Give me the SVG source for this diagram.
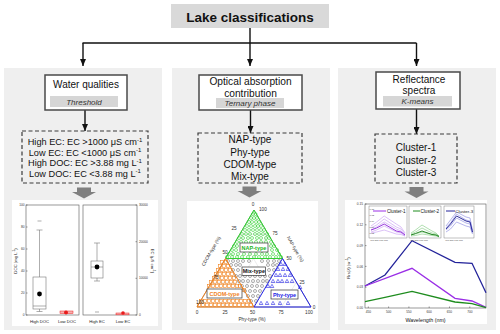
<svg xmlns="http://www.w3.org/2000/svg" width="500" height="334" viewBox="0 0 500 334">
<style>
text{font-family:"Liberation Sans",Arial,sans-serif;fill:#111}
.panel{fill:#efefef}
.box{fill:#fff;stroke:#4a4a4a;stroke-width:1.5}
.tag{fill:#d6d6d6}
.it{font-style:italic;font-size:8px;text-anchor:middle;fill:#333}
.dash{fill:none;stroke:#3a3a3a;stroke-width:1.2;stroke-dasharray:4 2.5}
.lbl{font-size:10px;text-anchor:middle}
.ql{font-size:9.2px;text-anchor:middle}
.conn{fill:none;stroke:#111;stroke-width:1.4}
.blk{fill:#7f7f7f}
.chart{fill:#fff}
.ax{fill:none;stroke:#555;stroke-width:0.6}
.tk{font-size:3.2px;fill:#333}
.tkr{font-size:3.2px;fill:#333;text-anchor:end}
.xl{font-size:4.2px;text-anchor:middle;fill:#222}
.bx{fill:#fff;stroke:#777;stroke-width:0.6}
.wh{fill:none;stroke:#777;stroke-width:0.6}
.tt{font-size:4.7px;fill:#333}
.ttm{font-size:4.7px;fill:#333;text-anchor:middle}
.tlab{font-size:5.5px;font-weight:bold;text-anchor:middle}
.lb{fill:#fff;stroke:#333;stroke-width:0.7}
.grid{fill:none;stroke:#cfcfcf;stroke-width:0.4}
.pts{fill:none;stroke:none}
.ins{fill:#fff;stroke:#666;stroke-width:0.4}
.it2{font-size:2.4px;fill:#444}
</style>
<defs>
<marker id="ah" markerWidth="7" markerHeight="6" refX="7" refY="3" orient="auto" markerUnits="userSpaceOnUse"><path d="M0,0 L7,3 L0,6 z" fill="#111"/></marker>
<marker id="mg" markerWidth="5" markerHeight="5" refX="2.5" refY="2.5" markerUnits="userSpaceOnUse"><circle cx="2.5" cy="2.5" r="1.5" fill="none" stroke="#2fd12f" stroke-width="0.6"/></marker>
<marker id="mk" markerWidth="5" markerHeight="5" refX="2.5" refY="2.5" markerUnits="userSpaceOnUse"><circle cx="2.5" cy="2.5" r="1.5" fill="none" stroke="#6a6a6a" stroke-width="0.55"/></marker>
<marker id="mo" markerWidth="5" markerHeight="5" refX="2.5" refY="2.5" markerUnits="userSpaceOnUse"><rect x="1" y="1" width="3" height="3" fill="none" stroke="#f0821e" stroke-width="0.6"/></marker>
<marker id="mb" markerWidth="5" markerHeight="5" refX="2.5" refY="2.5" markerUnits="userSpaceOnUse"><path d="M2.5,0.8 L4.3,4 L0.7,4 z" fill="none" stroke="#2424e6" stroke-width="0.6"/></marker>
<path id="barrow" d="M-7,0 h14 v4.5 h5 l-12,6.5 l-12,-6.5 h5 z"/>
</defs>

<g id="panels">
<rect class="panel" x="4" y="68" width="158" height="262"/>
<rect class="panel" x="172" y="68" width="158" height="262"/>
<rect class="panel" x="338" y="68" width="158" height="262"/>
</g>

<g id="title">
<rect x="171" y="4" width="158" height="24" fill="#d9d9d9"/>
<text x="250" y="21.5" font-size="13.5" font-weight="bold" text-anchor="middle">Lake classifications</text>
</g>

<g id="connectors">
<path class="conn" d="M250,28 V43 M82.5,43 H416.5"/>
<path class="conn" d="M83,43 V66" marker-end="url(#ah)"/>
<path class="conn" d="M250,43 V66" marker-end="url(#ah)"/>
<path class="conn" d="M416.5,43 V66" marker-end="url(#ah)"/>
<path class="conn" d="M85,110 V131" marker-end="url(#ah)"/>
<path class="conn" d="M250.5,110 V133" marker-end="url(#ah)"/>
<path class="conn" d="M416.5,109 V134" marker-end="url(#ah)"/>
<use href="#barrow" class="blk" x="84" y="187.5"/>
<use href="#barrow" class="blk" x="249.5" y="186.5"/>
<use href="#barrow" class="blk" x="416.5" y="187"/>
</g>

<g id="method-water">
<rect class="box" x="45" y="75" width="82" height="35"/>
<text x="86" y="88" font-size="10" text-anchor="middle">Water qualities</text>
<rect class="tag" x="50" y="96" width="68" height="11"/>
<text class="it" x="84" y="104.5">Threshold</text>
</g>

<g id="method-optical">
<rect class="box" x="199" y="75" width="103" height="35"/>
<text x="250.5" y="85" font-size="10.2" text-anchor="middle">Optical absorption</text>
<text x="250.5" y="97" font-size="10.2" text-anchor="middle">contribution</text>
<rect class="tag" x="216" y="98" width="68" height="10"/>
<text class="it" x="250" y="106">Ternary phase</text>
</g>

<g id="method-reflectance">
<rect class="box" x="376" y="72" width="84" height="37"/>
<text x="419" y="82.5" font-size="10" text-anchor="middle">Reflectance</text>
<text x="419" y="93.5" font-size="10" text-anchor="middle">spectra</text>
<rect class="tag" x="383" y="96" width="69" height="10.5"/>
<text class="it" x="417.5" y="104">K-means</text>
</g>

<g id="classes-water">
<rect class="dash" x="22" y="131" width="126" height="52"/>
<text class="ql" x="85" y="145">High EC: EC &gt;1000 μS cm<tspan font-size="6" dy="-3.5">-1</tspan></text>
<text class="ql" x="85" y="155.5">Low EC: EC &lt;1000 μS cm<tspan font-size="6" dy="-3.5">-1</tspan></text>
<text class="ql" x="85" y="166">High DOC: EC &gt;3.88 mg L<tspan font-size="6" dy="-3.5">-1</tspan></text>
<text class="ql" x="85" y="176.5">Low DOC: EC &lt;3.88 mg L<tspan font-size="6" dy="-3.5">-1</tspan></text>
</g>

<g id="classes-optical">
<rect class="dash" x="198" y="133" width="104" height="50"/>
<text class="lbl" x="250" y="143" font-size="10.3">NAP-type</text>
<text class="lbl" x="250" y="155.5" font-size="10.3">Phy-type</text>
<text class="lbl" x="250" y="167.8" font-size="10.3">CDOM-type</text>
<text class="lbl" x="250" y="180" font-size="10.3">Mix-type</text>
</g>

<g id="classes-reflectance">
<rect class="dash" x="375" y="134" width="82" height="49"/>
<text class="lbl" x="416" y="151">Cluster-1</text>
<text class="lbl" x="416" y="163.5">Cluster-2</text>
<text class="lbl" x="416" y="176">Cluster-3</text>
</g>

<g id="chart-boxplot">
<rect class="chart" x="12" y="200" width="146" height="126"/>
<rect class="ax" x="26" y="205" width="53" height="110"/>
<rect class="ax" x="83" y="205" width="54" height="110"/>
<path class="ax" d="M26,315h1.5M26,293h1.5M26,271h1.5M26,249h1.5M26,227h1.5M26,205h1.5M137,315h-1.5M137,278.3h-1.5M137,241.7h-1.5M137,205h-1.5"/>
<text class="tkr" x="24.5" y="316">0</text>
<text class="tkr" x="24.5" y="294">20</text>
<text class="tkr" x="24.5" y="272">40</text>
<text class="tkr" x="24.5" y="250">60</text>
<text class="tkr" x="24.5" y="228">80</text>
<text class="tkr" x="24.5" y="206">100</text>
<text class="tk" x="139" y="316">0</text>
<text class="tk" x="139" y="279.3">10000</text>
<text class="tk" x="139" y="242.7">20000</text>
<text class="tk" x="139" y="206">30000</text>
<text class="xl" transform="translate(16.5,261) rotate(-90)">DOC (mg L<tspan font-size="3" dy="-1.5">-1</tspan><tspan dy="1.5">)</tspan></text>
<text class="xl" transform="translate(151,261) rotate(90)">EC (μS cm<tspan font-size="3" dy="-1.5">-1</tspan><tspan dy="1.5">)</tspan></text>
<path class="wh" d="M39.5,230V277M39.5,309V311.5M36.5,230h6M36.5,311.5h6M37.5,221h4M33,306h13"/>
<rect class="bx" x="33" y="277" width="13" height="32" fill="none"/>
<path class="wh" d="M33,306h13"/>
<circle cx="39.5" cy="294" r="2.4" fill="#000"/>
<rect x="60" y="311" width="13" height="2.5" fill="#f6b0b0" stroke="#e22" stroke-width="0.5"/>
<circle cx="66" cy="312.5" r="2" fill="#e81c1c"/>
<path class="wh" d="M97,243V261M97,278V281M94,243h6M94,281h6M95,312h4"/>
<rect class="bx" x="91" y="261" width="12" height="17"/>
<path class="wh" d="M91,267h12"/>
<circle cx="97" cy="267" r="2.4" fill="#000"/>
<rect x="116" y="313" width="13" height="1.8" fill="#f6b0b0" stroke="#e22" stroke-width="0.5"/>
<circle cx="123" cy="313" r="1.8" fill="#e81c1c"/>
<text class="xl" x="39.5" y="323">High DOC</text>
<text class="xl" x="67" y="323">Low DOC</text>
<text class="xl" x="97" y="323">High EC</text>
<text class="xl" x="123" y="323">Low EC</text>
</g>

<g id="chart-ternary">
<rect class="chart" x="187" y="201" width="131" height="122"/>
<path class="grid" d="M239.75,234.25H268.25M225.5,258.5H282.5M211.25,282.75H296.75M224.5,307L268,234.25M253,307L282,258.5M281.5,307L296,282.75M224.5,307L210.5,282.75M253,307L225,258.5M281.5,307L239.5,234.25"/>
<path d="M254,210 L197,307 L311,307 z" fill="none" stroke="#555" stroke-width="0.5"/>
<path class="pts" marker-start="url(#mk)" marker-mid="url(#mk)" marker-end="url(#mk)" d="M228,261 233,261 238,261 243,261 249,261 262,261 268,261 274,261 279,261 231,265 236,265 240,265 268,265 273,265 277,265 233,270 238,270 269,270 274,270 236,276 240,276 245,276 250,276 255,276 260,276 265,276 270,276 239,281 243,281 248,281 253,281 258,281 263,281 267,281 242,286 247,286 252,286 257,286 262,286 245,291 250,291 255,291 260,291 248,296 253,296 258,296 251,301 256,301"/>
<path class="pts" marker-start="url(#mg)" marker-mid="url(#mg)" marker-end="url(#mg)" d="M253,214 255.5,214 251,218 254,218 257,218 249,222 252,222 256,222 259,222 247,226 251,226 255,226 258,226 261,226 245,230 249,230 253,230 257,230 261,230 264,230 242,234 246,234 250,234 255,234 259,234 263,234 267,234 239,238 243,238 248,238 252,238 257,238 261,238 266,238 269,238 237,242 241,242 246,242 251,242 256,242 261,242 266,242 271,242 234,246 237,246 271,246 274,246 232,250 236,250 272,250 277,250 229,254 233,254 238,254 244,254 250,254 256,254 262,254 267,254 273,254 279,254 227,257 232,257 237,257 242,257 248,257 254,257 259,257 265,257 270,257 276,257 281,257"/>
<path class="pts" marker-start="url(#mo)" marker-mid="url(#mo)" marker-end="url(#mo)" d="M222,262 226,262 220,266 224,266 228,266 218,270 222,270 226,270 230,270 216,274 220,274 224,274 228,274 232,274 214,278 218,278 222,278 226,278 230,278 234,278 211,282 215,282 219,282 223,282 227,282 231,282 235,282 209,286 213,286 217,286 221,286 225,286 229,286 233,286 237,286 240,286 244,290 201,301 205,301 209,301 213,301 217,301 221,301 225,301 229,301 233,301 237,301 241,301 245,301 249,301 199,305 203,305 207,305 211,305 215,305 219,305 223,305 227,305 231,305 235,305 239,305 243,305 247,305 251,305"/>
<path class="pts" marker-start="url(#mb)" marker-mid="url(#mb)" marker-end="url(#mb)" d="M281,264 285,264 278,269 283,269 288,269 276,275 280,275 285,275 290,275 273,281 278,281 282,281 287,281 292,281 268,286 272,286 300,287 261,303 267,303 273,303 280,303 288,303"/>
<path d="M254,210 L225.5,258.5 L282.5,258.5 z" fill="none" stroke="#2fd12f" stroke-width="1"/>
<path d="M225.5,258.5 L197,307 L254,307 z" fill="none" stroke="#f0821e" stroke-width="1"/>
<path d="M282.5,258.5 L254,307 L311,307 z" fill="none" stroke="#2424e6" stroke-width="1"/>
<rect class="lb" x="240" y="243" width="28" height="9"/>
<text class="tlab" x="254" y="249.8" fill="#22b522" style="fill:#22b522">NAP-type</text>
<rect class="lb" x="242" y="267" width="23.5" height="8.5"/>
<text class="tlab" x="253.8" y="273.3">Mix-type</text>
<rect class="lb" x="207" y="289" width="35" height="9"/>
<text class="tlab" x="224.5" y="295.8" style="fill:#f0821e">CDOM-type</text>
<rect class="lb" x="271" y="290" width="27" height="9"/>
<text class="tlab" x="284.5" y="296.8" style="fill:#2424e6">Phy-type</text>
<text class="ttm" x="253" y="206">0</text>
<text class="tt" x="259" y="211">100</text>
<text class="ttm" x="234" y="229.5">25</text>
<text class="ttm" x="225" y="253.5">50</text>
<text class="ttm" x="216" y="278.5">75</text>
<text class="ttm" x="200" y="303.5">100</text>
<text class="ttm" x="275" y="234.5">75</text>
<text class="ttm" x="289" y="259.5">50</text>
<text class="ttm" x="302" y="283.5">25</text>
<text class="ttm" x="314" y="308.5">0</text>
<text class="ttm" x="197" y="314">0</text>
<text class="ttm" x="225" y="314">25</text>
<text class="ttm" x="252.5" y="314">50</text>
<text class="ttm" x="281" y="314">75</text>
<text class="ttm" x="309" y="314">100</text>
<text class="ttm" transform="translate(212.5,252) rotate(-60)">CDOM-type (%)</text>
<text class="ttm" transform="translate(294,250) rotate(60)">NAP-type (%)</text>
<text class="ttm" x="252" y="321">Phy-type (%)</text>
</g>

<g id="chart-spectra">
<rect class="chart" x="345" y="200" width="142" height="124"/>
<rect class="ax" x="365" y="204" width="121" height="104"/>
<path class="ax" d="M365,204h1.5M365,224.8h1.5M365,245.6h1.5M365,266.4h1.5M365,287.2h1.5M368.3,308v-1.5M388.6,308v-1.5M408.9,308v-1.5M429.2,308v-1.5M449.5,308v-1.5M469.8,308v-1.5"/>
<text class="tkr" x="363" y="205.2">0.15</text>
<text class="tkr" x="363" y="226">0.12</text>
<text class="tkr" x="363" y="246.8">0.09</text>
<text class="tkr" x="363" y="267.6">0.06</text>
<text class="tkr" x="363" y="288.4">0.03</text>
<text class="tkr" x="363" y="309.2">0.00</text>
<text class="tk" x="368.3" y="312.5" text-anchor="middle">450</text>
<text class="tk" x="388.6" y="312.5" text-anchor="middle">500</text>
<text class="tk" x="408.9" y="312.5" text-anchor="middle">550</text>
<text class="tk" x="429.2" y="312.5" text-anchor="middle">600</text>
<text class="tk" x="449.5" y="312.5" text-anchor="middle">650</text>
<text class="tk" x="469.8" y="312.5" text-anchor="middle">700</text>
<text x="425.5" y="321.5" font-size="5.3" text-anchor="middle">Wavelength (nm)</text>
<text class="xl" transform="translate(349.5,268) rotate(-90)">Rrs(λ) (sr<tspan font-size="3" dy="-1.5">-1</tspan><tspan dy="1.5">)</tspan></text>
<polyline fill="none" stroke="#23239a" stroke-width="1.3" points="365,286 385,275 412,240.7 455,262.3 472,263.3 486,292.7"/>
<polyline fill="none" stroke="#9a2ee6" stroke-width="1.3" points="365,286 412,268.3 455,298.3 472,301 486,307.3"/>
<polyline fill="none" stroke="#1e8c1e" stroke-width="1.3" points="365,301.7 385,297.3 412,291.3 455,302 472,303.7 486,307.7"/>
<g transform="translate(369,206)">
<rect class="ins" x="0" y="0" width="38" height="32"/>
<g fill="none" stroke="#b77ff0" stroke-width="0.6" opacity="0.8">
<polyline points="2,26 7.6,24 15.2,20 27.3,26 32,27 36,30"/>
<polyline points="2,24 7.6,21 15.2,16 27.3,23 32,25 36,29"/>
<polyline points="2,22 7.6,19 15.2,13 27.3,21 32,23 36,28"/>
<polyline points="2,27 7.6,26 15.2,24 27.3,28 32,28.5 36,30"/>
<polyline points="2,20 7.6,16 15.2,10 27.3,18 32,21 36,27"/>
</g>
<polyline fill="none" stroke="#8a1fd6" stroke-width="0.9" points="2,24 7.6,22 15.2,18 27.3,25 32,26 36,29"/>
<path d="M4,5H17" stroke="#9a2ee6" stroke-width="1"/>
<text x="18" y="6.6" font-size="4.6">Cluster-1</text>
<text class="it2" x="0.5" y="3.5">0.15</text>
<text class="it2" x="0.5" y="9.5">0.12</text>
<text class="it2" x="0.5" y="15.5">0.09</text>
<text class="it2" x="0.5" y="21.5">0.06</text>
<text class="it2" x="0.5" y="27.5">0.03</text>
<text class="it2" x="1" y="34.5">400 500 600 700</text>
</g>
<g transform="translate(409,206)">
<rect class="ins" x="0" y="0" width="32" height="32"/>
<g fill="none" stroke="#5fbf5f" stroke-width="0.6" opacity="0.8">
<polyline points="2,29 6.5,28 13,26 23,28.5 27,29 30,30.5"/>
<polyline points="2,28 6.5,26 13,22 23,27 27,28 30,30"/>
<polyline points="2,27 6.5,24 13,19 23,25 27,27 30,30"/>
<polyline points="2,30 6.5,29.5 13,28 23,29.5 27,30 30,31"/>
</g>
<polyline fill="none" stroke="#137a13" stroke-width="0.9" points="2,29 6.5,27.5 13,25 23,28.5 27,29 30,30.5"/>
<path d="M4,5H11" stroke="#1e8c1e" stroke-width="1"/>
<text x="11.5" y="6.6" font-size="4.6">Cluster-2</text>
<text class="it2" x="1" y="34.5">400 500 600 700</text>
</g>
<g transform="translate(444,206)">
<rect class="ins" x="0" y="0" width="30" height="32"/>
<g fill="none" stroke="#6a6ad8" stroke-width="0.6" opacity="0.8">
<polyline points="2,22 6.5,17 12.5,8 22,14 26,15 28.5,26"/>
<polyline points="2,24 6.5,20 12.5,12 22,17 26,18 28.5,27"/>
<polyline points="2,20 6.5,14 12.5,6 22,11 26,12 28.5,24"/>
<polyline points="2,26 6.5,23 12.5,16 22,20 26,21 28.5,28"/>
</g>
<polyline fill="none" stroke="#1a1a90" stroke-width="0.9" points="2,23 6.5,18 12.5,10 22,15 26,16 28.5,26"/>
<path d="M2,5H11" stroke="#23239a" stroke-width="1"/>
<text x="11.3" y="6.6" font-size="4.4">Cluster-3</text>
<text class="it2" x="1" y="34.5">400 500 600 700</text>
</g>
</g>
</svg>
